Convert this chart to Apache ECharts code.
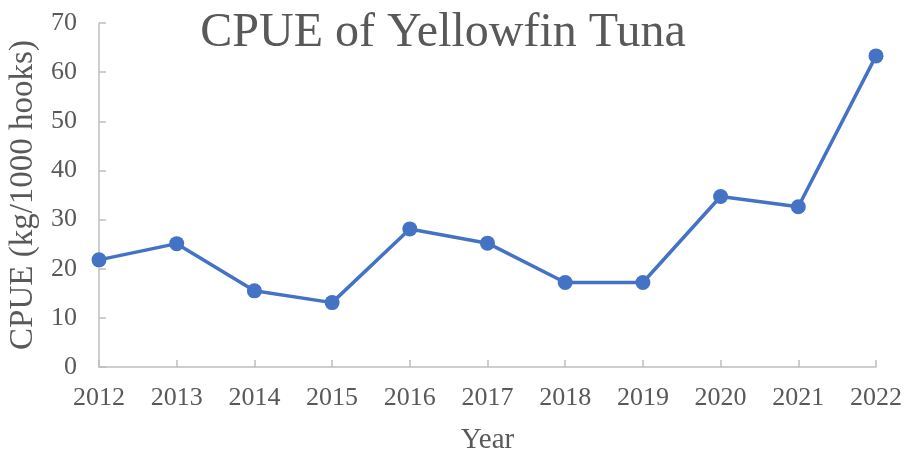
<!DOCTYPE html>
<html>
<head>
<meta charset="utf-8">
<script src="https://cdn.jsdelivr.net/npm/echarts@6/dist/echarts.min.js"></script>
<style>
  html, body { margin: 0; padding: 0; background: #fff; }
  #chart { width: 906px; height: 454px; }
</style>
</head>
<body>
<div id="chart"></div>
<script>
const years = ['2012', '2013', '2014', '2015', '2016', '2017', '2018', '2019', '2020', '2021', '2022'];
const cpue = [21.8, 25.1, 15.5, 13.1, 28.1, 25.2, 17.2, 17.2, 34.7, 32.6, 63.3];

const chart = echarts.init(document.getElementById('chart'));
const font = '"Liberation Serif", "Times New Roman", serif';
const textColor = '#595959';
const axisColor = '#bfbfbf';

chart.setOption({
  animation: false,
  title: {
    text: 'CPUE of Yellowfin Tuna',
    left: 438,
    textAlign: 'center',
    top: 4,
    textStyle: { fontFamily: font, fontSize: 48, fontWeight: 'normal', color: textColor }
  },
  // keep the plot box fixed; the axis name sits close to the bottom edge
  grid: { left: 99, right: 30, top: 23, bottom: 87, outerBoundsMode: 'none' },
  xAxis: {
    type: 'category',
    data: years,
    boundaryGap: false,
    name: 'Year',
    nameLocation: 'middle',
    nameGap: 59,
    nameTextStyle: { fontFamily: font, fontSize: 29, color: textColor },
    axisLine: { lineStyle: { color: axisColor, width: 1.5 } },
    axisTick: { inside: true, length: 7, lineStyle: { color: axisColor, width: 1.5 } },
    axisLabel: { fontFamily: font, fontSize: 26, color: textColor, margin: 18 }
  },
  yAxis: {
    type: 'value',
    min: 0,
    max: 70,
    interval: 10,
    name: 'CPUE (kg/1000 hooks)',
    nameLocation: 'middle',
    nameGap: 58,
    nameTextStyle: { fontFamily: font, fontSize: 33, color: textColor },
    splitLine: { show: false },
    axisLine: { show: true, lineStyle: { color: axisColor, width: 1.5 } },
    axisTick: { show: true, inside: true, length: 7, lineStyle: { color: axisColor, width: 1.5 } },
    axisLabel: { fontFamily: font, fontSize: 26, color: textColor, margin: 22 }
  },
  series: [{
    type: 'line',
    data: cpue,
    symbol: 'circle',
    symbolSize: 15,
    itemStyle: { color: '#4472c4' },
    lineStyle: { color: '#4472c4', width: 3.5 }
  }]
});
</script>
</body>
</html>
